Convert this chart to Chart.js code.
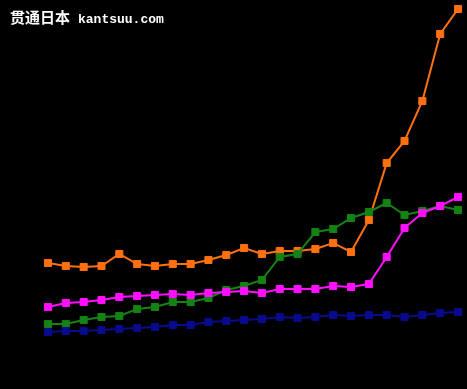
<!DOCTYPE html>
<html lang="zh">
<head>
    <meta charset="UTF-8">
    <title>贯通日本 kantsuu.com</title>
    <script src="https://cdn.jsdelivr.net/npm/chart.js"></script>
    <style>
        body { margin: 0; background: #000; }
        .wrap { position: relative; width: 467px; height: 389px; }
        .marca { position: absolute; left: 10px; top: 6px; color: #fff; font-weight: bold; white-space: nowrap; }
        .marca .zh { font-family: "Noto Sans CJK SC", sans-serif; font-size: 15px; }
        .marca .en { font-family: "Liberation Mono", monospace; font-size: 13px; margin-left: 8px; }
    </style>
</head>
<body>
    <div class="wrap">
        <canvas id="grafico" width="467" height="389"></canvas>
        <div class="marca"><span class="zh">贯通日本</span><span class="en">kantsuu.com</span></div>
    </div>

    <script>
        // Datos (sin ejes visibles)
        const anios = ['1990','1991','1992','1993','1994','1995','1996','1997','1998','1999','2000','2001',
                       '2002','2003','2004','2005','2006','2007','2008','2009','2010','2011','2012','2013'];
        const serieNaranja = [126, 123, 122, 123, 135, 125, 123, 125, 125, 129, 134, 141,
                              135, 138, 138, 140, 146, 137, 169, 226, 248, 288, 355, 380];
        const serieMagenta = [82, 86, 87, 89, 92, 93, 94, 95, 94, 96, 97, 98,
                              96, 100, 100, 100, 103, 102, 105, 132, 161, 176, 183, 192];
        const serieVerde = [65, 65, 69, 72, 73, 80, 82, 87, 87, 91, 99, 103,
                            109, 132, 135, 157, 160, 171, 177, 186, 174, 178, 183, 179];
        const serieAzul = [57, 58, 58, 59, 60, 61, 62, 64, 64, 67, 68, 69,
                           70, 72, 71, 72, 74, 73, 74, 74, 72, 74, 76, 77];

        function serie(datos, color) {
            return {
                data: datos,
                borderColor: color,
                backgroundColor: color,
                borderWidth: 2,
                pointStyle: 'rect',
                pointRadius: 5,
                pointBorderWidth: 1,
                tension: 0,
                clip: false
            };
        }

        const ctx = document.getElementById('grafico').getContext('2d');
        new Chart(ctx, {
            type: 'line',
            data: {
                labels: anios,
                datasets: [
                    serie(serieAzul, '#0a0a8c'),
                    serie(serieMagenta, '#ff10ff'),
                    serie(serieVerde, '#148214'),
                    serie(serieNaranja, '#ff7010')
                ]
            },
            options: {
                responsive: false,
                animation: false,
                layout: { autoPadding: false, padding: { left: 48, right: 9, top: 0, bottom: 0 } },
                plugins: { legend: { display: false }, tooltip: { enabled: false } },
                scales: {
                    x: { display: false, offset: false },
                    y: { display: false, min: 0, max: 389 }
                }
            }
        });
    </script>
</body>
</html>
